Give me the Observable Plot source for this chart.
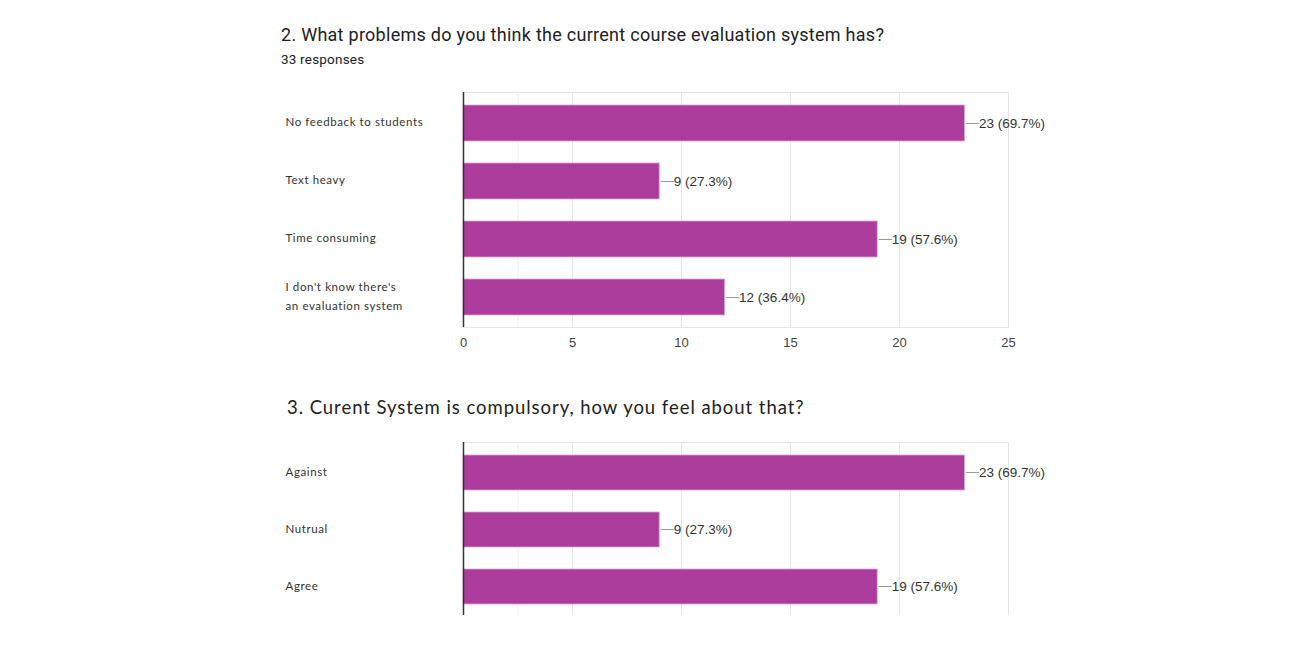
<!DOCTYPE html>
<html>
<head>
<meta charset="utf-8">
<script src="https://cdn.jsdelivr.net/npm/d3@7"></script>
<script src="https://cdn.jsdelivr.net/npm/@observablehq/plot@0.6"></script>
<style>
  html, body { margin: 0; padding: 0; background: #fff; }
  #page { position: relative; width: 1305px; height: 655px; overflow: hidden; background: #fff; }
  .abs { position: absolute; white-space: nowrap; }
  #t1 { left: 281px; top: 24px; font: 18px Roboto, sans-serif; letter-spacing: 0.27px; color: #202124; }
  #s1 { left: 281px; top: 51px; font: 13.5px Roboto, sans-serif; letter-spacing: 0.2px; color: #202124; }
  #t2 { left: 287px; top: 396px; font: 18.5px Lato, sans-serif; letter-spacing: 0.95px; color: #222; }
  #c1 { left: 0; top: 80px; }
  #c2 { left: 0; top: 430px; height: 185px; overflow: hidden; }
  svg g[font-family^="Lato"] text { letter-spacing: 0.6px; }
</style>
</head>
<body>
<div id="page">
  <div class="abs" id="t1"></div>
  <div class="abs" id="s1"></div>
  <div class="abs" id="c1"></div>
  <div class="abs" id="t2"></div>
  <div class="abs" id="c2"></div>
</div>
<script>
const title2 = "2. What problems do you think the current course evaluation system has?";
const responsesLabel = "33 responses";
const title3 = "3. Curent System is compulsory, how you feel about that?";

const q2Categories = ["No feedback to students", "Text heavy", "Time consuming", "I don't know there's\nan evaluation system"];
const q2Counts = [23, 9, 19, 12];
const q2Percents = ["69.7%", "27.3%", "57.6%", "36.4%"];

const q3Categories = ["Against", "Nutrual", "Agree"];
const q3Counts = [23, 9, 19];
const q3Percents = ["69.7%", "27.3%", "57.6%"];

const xTicks = [0, 5, 10, 15, 20, 25];
const minorTicks = [2.5];

document.getElementById("t1").textContent = title2;
document.getElementById("s1").textContent = responsesLabel;
document.getElementById("t2").textContent = title3;

const barColor = "#ab3c9c";
const labelFont = "Lato, sans-serif";
const numFont = "Arial, 'Liberation Sans', sans-serif";

function makeChart(categories, counts, percents, opts) {
  const data = categories.map((c, i) => ({cat: c, n: counts[i], label: `${counts[i]} (${percents[i]})`}));
  return Plot.plot({
    width: 1305,
    height: opts.height,
    marginLeft: 463,
    marginRight: 297,
    marginTop: opts.marginTop,
    marginBottom: opts.marginBottom,
    style: {background: "#fff", overflow: "visible"},
    x: {domain: [0, 25], ticks: xTicks, axis: null, label: null},
    y: {domain: categories, paddingInner: 0.38, paddingOuter: 0.2, axis: null},
    marks: [
      Plot.frame({stroke: "#e6e6e6"}),
      Plot.ruleX(minorTicks, {stroke: "#f0f0f0"}),
      Plot.ruleX(xTicks.slice(1), {stroke: "#e6e6e6"}),
      Plot.barX(data, {x: "n", y: "cat", fill: barColor, stroke: "#d9a6d1", strokeWidth: 0.8}),
      Plot.ruleX([0], {stroke: "#333", strokeWidth: 1.5}),
      Plot.text(data, {x: "n", y: "cat", text: () => "\u2014", textAnchor: "start", dx: 1, dy: -1, fill: "#9a9a9a", fontSize: 13, fontFamily: numFont}),
      Plot.text(data, {x: "n", y: "cat", text: "label", textAnchor: "start", dx: 14, dy: 0, fill: "#333", fontSize: 13.5, fontFamily: numFont}),
      Plot.text(data, {x: 0, y: "cat", text: "cat", textAnchor: "start", dx: -178, dy: -3, fill: "#333", fontSize: 11.5, lineHeight: 1.6, fontFamily: labelFont}),
      ...(opts.xAxis ? [Plot.axisX(xTicks, {tickSize: 0, tickPadding: 10, fontSize: 13, fill: "#444", fontFamily: numFont, label: null})] : [])
    ]
  });
}

const c1 = makeChart(q2Categories, q2Counts, q2Percents, {height: 277, marginTop: 12, marginBottom: 30, xAxis: true});
document.getElementById("c1").appendChild(c1);

const c2 = makeChart(q3Categories, q3Counts, q3Percents, {height: 230, marginTop: 12, marginBottom: 43, xAxis: false});
document.getElementById("c2").appendChild(c2);
</script>
</body>
</html>
